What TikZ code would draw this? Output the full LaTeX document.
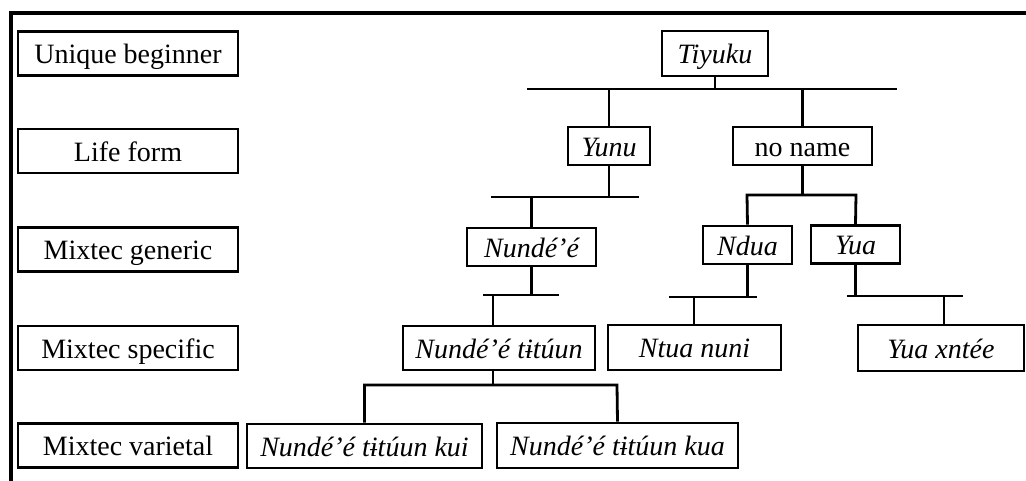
\documentclass[tikz,border=0pt]{standalone}
\usepackage{fontspec}
\setmainfont{Liberation Serif}
\begin{document}
\begin{tikzpicture}[x=1pt,y=-1pt,
  box/.style={draw,line width=2.8pt,inner sep=0pt,text height=20pt,text depth=0pt,font=\fontsize{28}{30}\selectfont},
  lvl/.style={box,minimum width=220pt,minimum height=44pt},
  conn/.style={line width=2.8pt},
  frame/.style={line width=3.5pt,line join=miter}]
\useasboundingbox (0,0) rectangle (1026,480);
\draw[frame] (11,482) -- (11,13) -- (1028,13);

% level labels
\node[lvl] (L1) at (128,53.5) {Unique beginner};
\node[lvl] (L2) at (128,151) {Life form};
\node[lvl] (L3) at (128,249.5) {Mixtec generic};
\node[lvl] (L4) at (128,348) {Mixtec specific};
\node[lvl] (L5) at (128,445.5) {Mixtec varietal};

% tree nodes
\node[box,minimum width=106pt,minimum height=45pt] (tiy) at (715,53.5) {\itshape Tiyuku};
\node[box,minimum width=82pt,minimum height=38pt] (yunu) at (609,146) {\itshape Yunu};
\node[box,minimum width=139pt,minimum height=38pt] (non) at (802.5,146) {no name};
\node[box,minimum width=129pt,minimum height=38pt] (nun) at (531.5,247) {\itshape Nundé’é};
\node[box,minimum width=89pt,minimum height=38pt] (ndua) at (747.5,245) {\itshape Ndua};
\node[box,minimum width=89pt,minimum height=38pt] (yua) at (855.5,244.5) {\itshape Yua};
\node[box,minimum width=192pt,minimum height=44pt] (nt) at (499,348) {\itshape Nundé’é tɨtúun};
\node[box,minimum width=173pt,minimum height=45pt] (ntua) at (694.5,347.5) {\itshape Ntua nuni};
\node[box,minimum width=166pt,minimum height=46pt] (yx) at (941,348) {\itshape Yua xntée};
\node[box,minimum width=235pt,minimum height=44pt] (kui) at (364.5,446) {\itshape Nundé’é tɨtúun kui};
\node[box,minimum width=241pt,minimum height=45pt] (kua) at (617.5,445.5) {\itshape Nundé’é tɨtúun kua};

% bars
\coordinate (b1l) at (527,89);  \coordinate (b1r) at (897,89);
\coordinate (b2l) at (491,197); \coordinate (b2r) at (639,197);
\coordinate (b3l) at (747,195); \coordinate (b3r) at (856,195);
\coordinate (b4l) at (483,295); \coordinate (b4r) at (559,295);
\coordinate (b5l) at (669,297); \coordinate (b5r) at (757,297);
\coordinate (b6l) at (847,296); \coordinate (b6r) at (963,296);
\coordinate (b7l) at (346,385); \coordinate (b7r) at (617,385);
\coordinate (d4) at (493,295);
\coordinate (d5) at (694,297);
\coordinate (d6) at (944,296);
\coordinate (s7) at (493,385);

% Tiyuku
\draw[conn] (tiy.south) -- (tiy.south |- b1l);
\draw[conn] (b1l) -- (b1r);
\draw[conn] (yunu.north) -- (yunu.north |- b1l);
\draw[conn] (non.north) -- (non.north |- b1l);
% Yunu
\draw[conn] (yunu.south) -- (yunu.south |- b2l);
\draw[conn] (b2l) -- (b2r);
\draw[conn] (nun.north) -- (nun.north |- b2l);
% no name (bracket)
\draw[conn] (non.south) -- (non.south |- b3l);
\draw[conn,line join=miter] (ndua.north) -- (b3l) -- (b3r) -- (yua.north);
% Nunde'e
\draw[conn] (nun.south) -- (nun.south |- b4l);
\draw[conn] (b4l) -- (b4r);
\draw[conn] (d4) -- (d4 |- nt.north);
% Ndua
\draw[conn] (ndua.south) -- (ndua.south |- b5l);
\draw[conn] (b5l) -- (b5r);
\draw[conn] (d5) -- (d5 |- ntua.north);
% Yua
\draw[conn] (yua.south) -- (yua.south |- b6l);
\draw[conn] (b6l) -- (b6r);
\draw[conn] (d6) -- (d6 |- yx.north);
% Nunde'e titu'un
\draw[conn] (s7 |- nt.south) -- (s7);
\draw[conn,line join=miter] (kui.north) -- (kui.north |- b7l) -- (b7r) -- (kua.north);
\end{tikzpicture}
\end{document}
